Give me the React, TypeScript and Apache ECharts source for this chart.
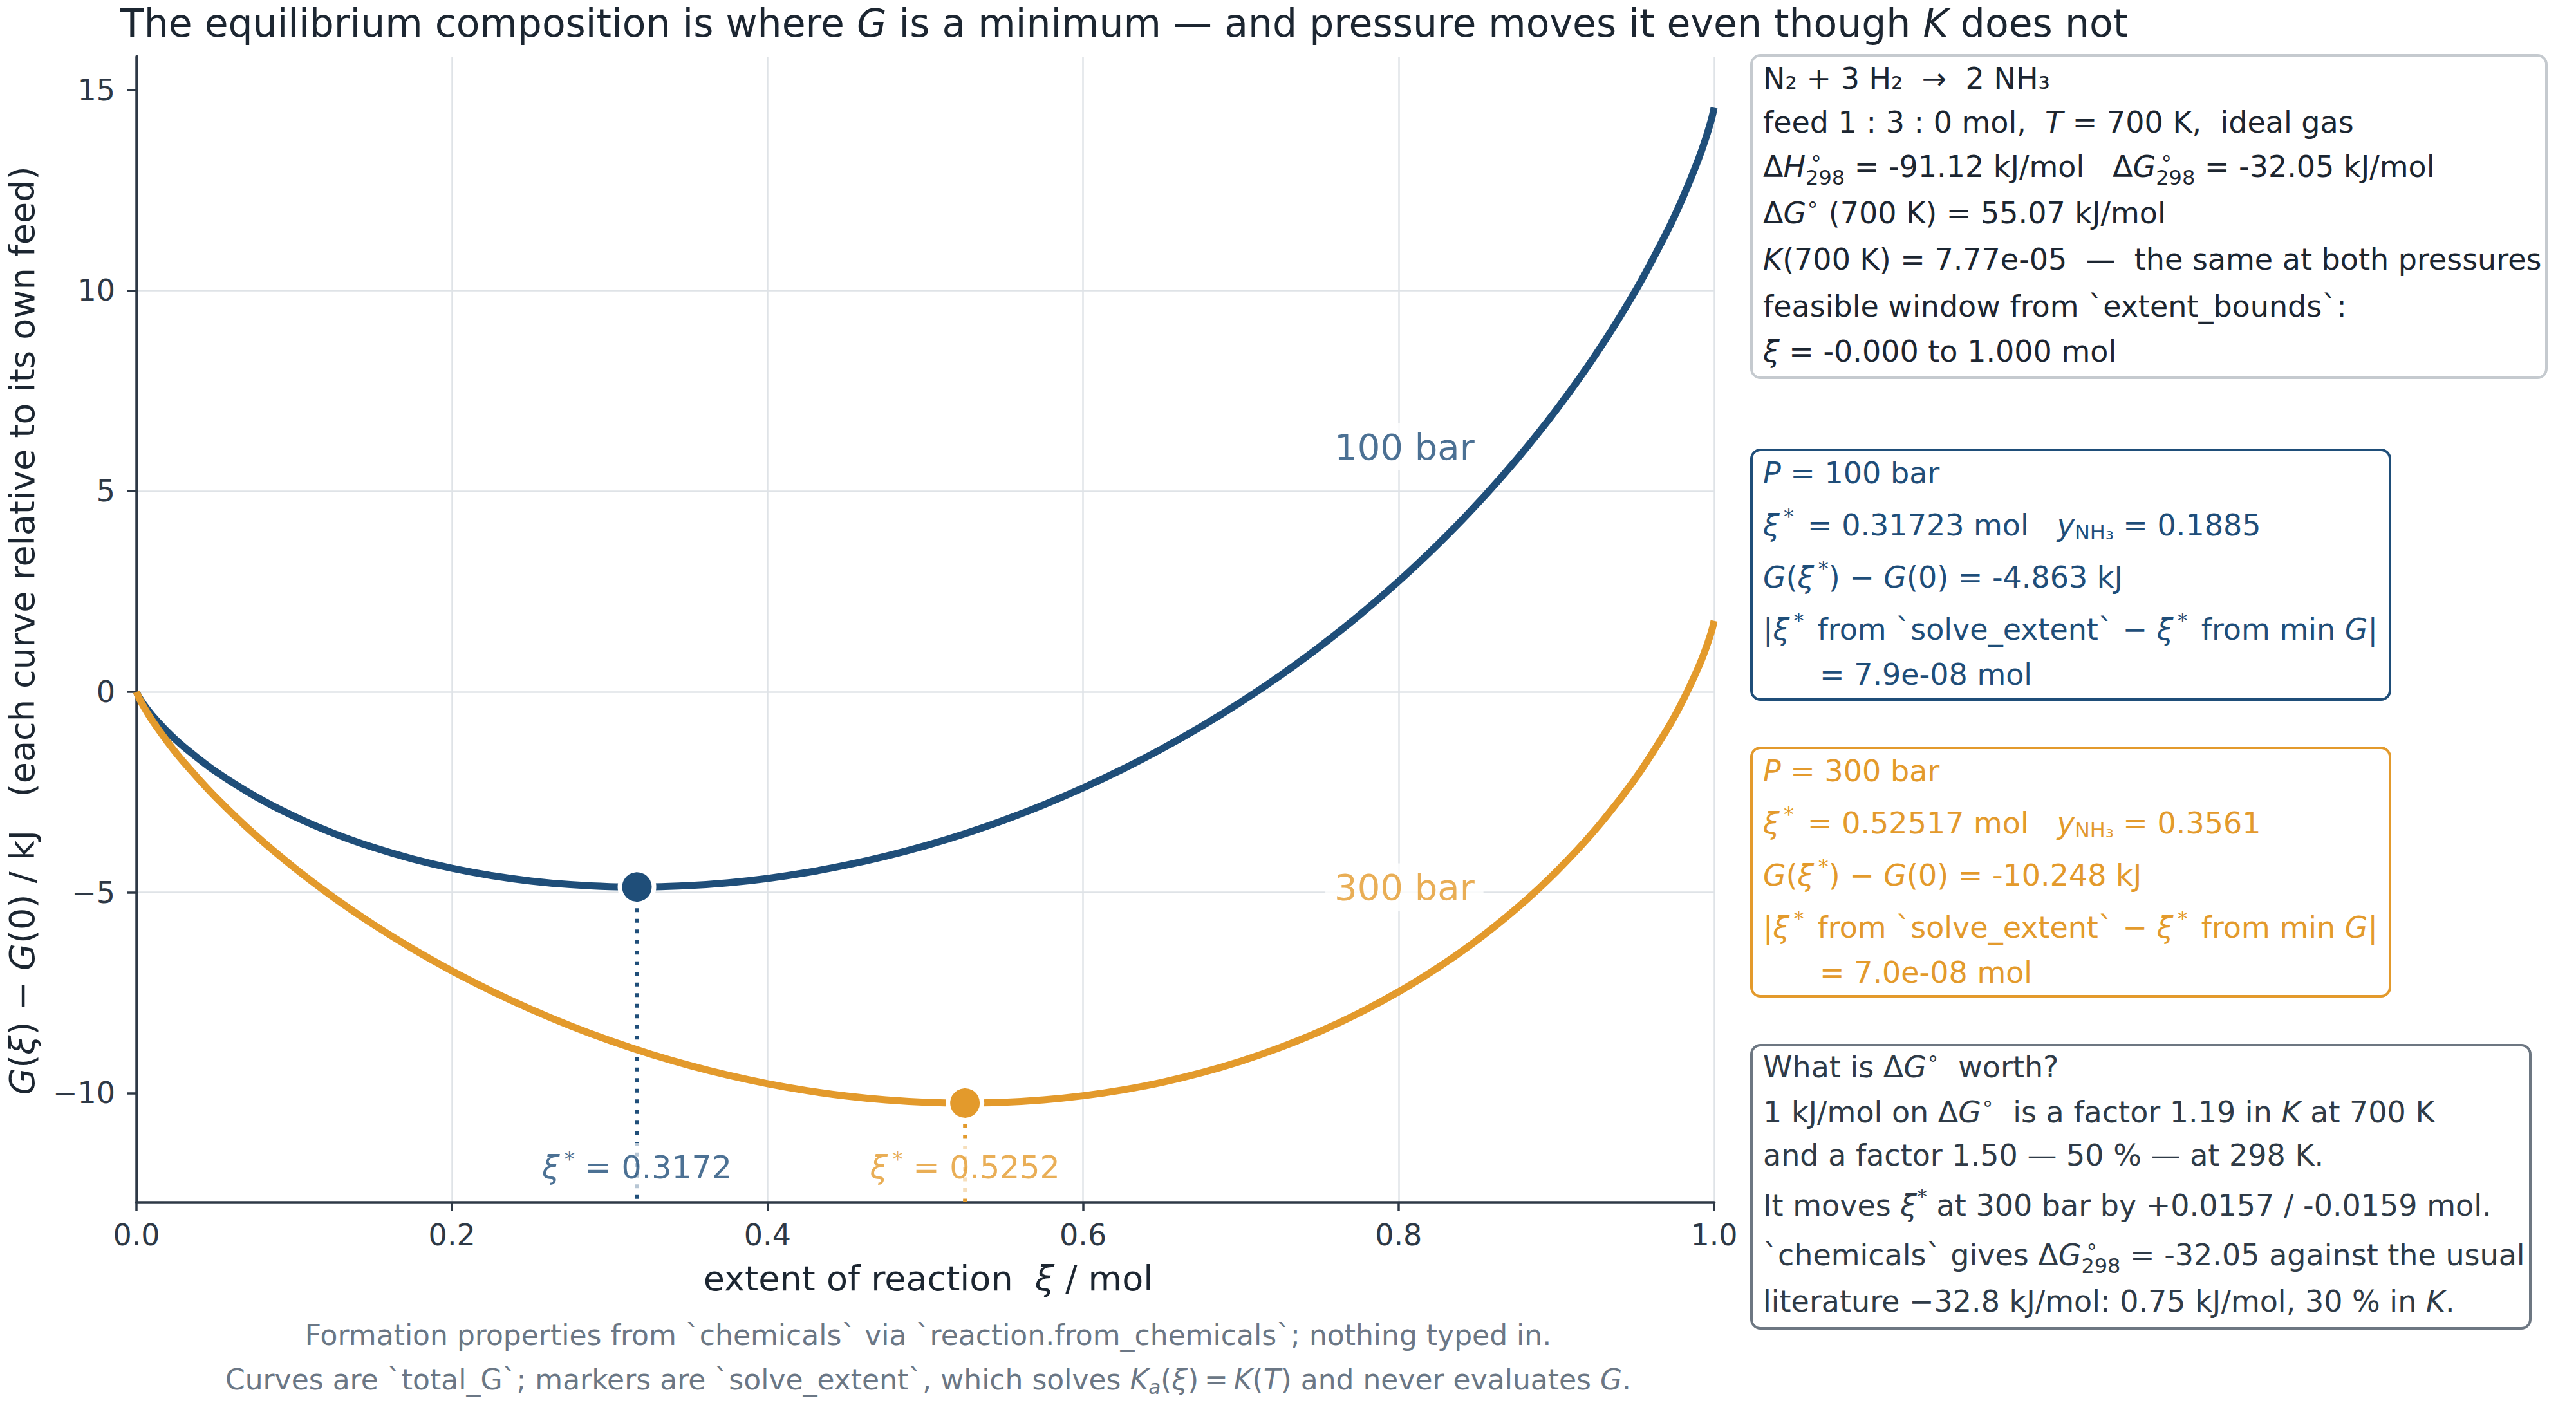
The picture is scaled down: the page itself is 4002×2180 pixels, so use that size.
import React, { useEffect, useRef } from 'react';
import * as echarts from 'echarts';

// ---------- data ----------
const xi = [0, 0.001, 0.002, 0.005, 0.01, 0.02, 0.03, 0.05, 0.075, 0.1, 0.125, 0.15, 0.175, 0.2, 0.225, 0.25, 0.275, 0.3, 0.325, 0.35, 0.375, 0.4, 0.425, 0.45, 0.475, 0.5, 0.525, 0.55, 0.575, 0.6, 0.625, 0.65, 0.675, 0.7, 0.725, 0.75, 0.775, 0.8, 0.825, 0.85, 0.875, 0.9, 0.925, 0.95, 0.97, 0.98, 0.99, 0.995, 0.998, 0.999, 1.0];
const g100 = [0, -0.086, -0.155, -0.334, -0.587, -1.010, -1.371, -1.979, -2.597, -3.105, -3.526, -3.876, -4.165, -4.398, -4.580, -4.715, -4.806, -4.855, -4.862, -4.830, -4.760, -4.651, -4.504, -4.319, -4.097, -3.836, -3.536, -3.197, -2.817, -2.395, -1.930, -1.420, -0.863, -0.255, 0.406, 1.125, 1.905, 2.754, 3.679, 4.689, 5.800, 7.029, 8.407, 9.984, 11.456, 12.301, 13.267, 13.831, 14.223, 14.374, 14.556];
const g300 = [0, -0.098, -0.181, -0.398, -0.715, -1.266, -1.755, -2.618, -3.556, -4.383, -5.125, -5.795, -6.403, -6.955, -7.457, -7.912, -8.323, -8.691, -9.018, -9.306, -9.555, -9.766, -9.939, -10.074, -10.171, -10.230, -10.250, -10.230, -10.170, -10.068, -9.923, -9.733, -9.495, -9.207, -8.865, -8.467, -8.006, -7.477, -6.872, -6.181, -5.390, -4.480, -3.422, -2.164, -0.949, -0.232, 0.607, 1.106, 1.461, 1.598, 1.768];
const starXi = [0.31723, 0.52517];
const starG = [-4.863, -10.248];
const starText = ['0.3172', '0.5252'];
const curveNames = ['100 bar', '300 bar'];
const yTicks = [-10, -5, 0, 5, 10, 15];
const Y_MIN = -12.72;
const Y_MAX = 15.83;

// ---------- styles ----------
const FF = "'DejaVu Sans', Verdana, sans-serif";
const BLUE = '#1f4e79';
const ORANGE = '#e39a2c';
const AX = '#2e3946';
const GRID = '#dfe3e7';
const DARK = '#1c2631';
const SLATE = '#2f3b47';
const FOOT = '#6b7785';

// zrender-style rich set for graphic texts
function zr(fs: number, color: string) {
  const s = Math.round(fs * 0.7);
  const b = { fontFamily: FF, fill: color };
  const lh = Math.round(fs * 1.3);
  return {
    i: { ...b, fontSize: fs, fontStyle: 'italic', lineHeight: lh },
    n: { ...b, fontSize: fs, lineHeight: lh },
    sup: { ...b, fontSize: s, height: s, verticalAlign: 'top' },
    supz: { ...b, fontSize: s, height: s, verticalAlign: 'top', width: 0 },
    sub: { ...b, fontSize: s, height: Math.round(s * 0.8), verticalAlign: 'bottom' },
    sub2: { ...b, fontSize: s, height: Math.round(s * 1.2), verticalAlign: 'bottom' },
    isub: { ...b, fontSize: s, fontStyle: 'italic', height: Math.round(s * 1.1), verticalAlign: 'bottom' },
  };
}

function gText(x: number, baseline: number, text: string, fs: number, color: string, align = 'left', extra: any = {}) {
  return {
    type: 'text',
    x,
    y: baseline - 0.346 * fs,
    z: 20,
    silent: true,
    ...extra,
    style: {
      text,
      x: 0,
      y: 0,
      fill: color,
      fontSize: fs,
      fontFamily: FF,
      lineHeight: Math.round(fs * 1.3),
      align,
      verticalAlign: 'middle',
      rich: zr(fs, color),
    },
  };
}

function box(x: number, y: number, w: number, h: number, stroke: string) {
  return {
    type: 'rect',
    z: 15,
    silent: true,
    shape: { x, y, width: w, height: h, r: 14 },
    style: { fill: '#ffffff', stroke, lineWidth: 4 },
  };
}

const TX = 2739;
const PFS = 46;

const box1Lines = [
  'N₂ + 3 H₂  →  2 NH₃',
  'feed 1 : 3 : 0 mol,  {i|T} = 700 K,  ideal gas',
  'Δ{i|H}{supz|\u2009∘}{sub|298} = -91.12 kJ/mol   Δ{i|G}{supz|\u2009∘}{sub|298} = -32.05 kJ/mol',
  'Δ{i|G}{sup|∘} (700 K) = 55.07 kJ/mol',
  '{i|K}(700 K) = 7.77e-05  —  the same at both pressures',
  'feasible window from `extent_bounds`:',
  '{i|ξ} = -0.000 to 1.000 mol',
];
const box1Base = [138, 206, 275, 347, 419, 492, 562];

const box2Lines = [
  '{i|P} = 100 bar',
  '{i|ξ}{sup|\u2009*\u2009} = 0.31723 mol   {i|y}{sub2|NH₃} = 0.1885',
  '{i|G}({i|ξ}{sup|\u2009*}) − {i|G}(0) = -4.863 kJ',
  '|{i|ξ}{sup|\u2009*\u2009} from `solve_extent` − {i|ξ}{sup|\u2009*\u2009} from min {i|G}|',
  '= 7.9e-08 mol',
];
const box2Base = [751, 832, 913, 994, 1064];

const box3Lines = [
  '{i|P} = 300 bar',
  '{i|ξ}{sup|\u2009*\u2009} = 0.52517 mol   {i|y}{sub2|NH₃} = 0.3561',
  '{i|G}({i|ξ}{sup|\u2009*}) − {i|G}(0) = -10.248 kJ',
  '|{i|ξ}{sup|\u2009*\u2009} from `solve_extent` − {i|ξ}{sup|\u2009*\u2009} from min {i|G}|',
  '= 7.0e-08 mol',
];
const box3Base = [1214, 1295, 1376, 1457, 1527];

const box4Lines = [
  'What is Δ{i|G}{sup|∘}  worth?',
  '1 kJ/mol on Δ{i|G}{sup|∘}  is a factor 1.19 in {i|K} at 700 K',
  'and a factor 1.50 — 50 % — at 298 K.',
  'It moves {i|ξ}{sup|*} at 300 bar by +0.0157 / -0.0159 mol.',
  '`chemicals` gives Δ{i|G}{supz|\u2009∘}{sub|298} = -32.05 against the usual',
  'literature −32.8 kJ/mol: 0.75 kJ/mol, 30 % in {i|K}.',
];
const box4Base = [1674, 1744, 1811, 1889, 1966, 2038];

const TITLE = 'The equilibrium composition is where {i|G} is a minimum — and pressure moves it even though {i|K} does not';
const X_NAME = 'extent of reaction  {i|ξ} / mol';
const Y_NAME = '{i|G}({i|ξ}) − {i|G}(0) / kJ   (each curve relative to its own feed)';
const FOOT1 = 'Formation properties from `chemicals` via `reaction.from_chemicals`; nothing typed in.';
const FOOT2 = 'Curves are `total_G`; markers are `solve_extent`, which solves {i|K}{isub|a}({i|ξ})\u2009=\u2009{i|K}({i|T}) and never evaluates {i|G}.';

function labelRich(fs: number, color: string) {
  const s = Math.round(fs * 0.7);
  return {
    i: { fontFamily: FF, fontSize: fs, fontStyle: 'italic', color, lineHeight: Math.round(fs * 1.25) },
    sup: { fontFamily: FF, fontSize: s, color, height: s, verticalAlign: 'top' },
  };
}

export default function App() {
  const ref = useRef<HTMLDivElement>(null);
  useEffect(() => {
    if (!ref.current) return;
    const chart = echarts.init(ref.current, null, { renderer: 'svg' });
    const colors = [BLUE, ORANGE];
    const curves = [g100, g300];

    const series: any[] = [];
    curves.forEach((vals, k) => {
      series.push({
        type: 'line',
        name: curveNames[k],
        data: xi.map((x, i) => [x, vals[i]]),
        showSymbol: false,
        symbol: 'none',
        smooth: 0.3,
        lineStyle: { color: colors[k], width: 11, cap: 'butt', join: 'round' },
        z: 3,
        silent: true,
      });
      // dotted drop line
      series.push({
        type: 'line',
        data: [[starXi[k], starG[k]], [starXi[k], Y_MIN]],
        showSymbol: false,
        symbol: 'none',
        lineStyle: { color: colors[k], width: 6, type: [6, 10.5] },
        z: 2,
        silent: true,
      });
      // marker
      series.push({
        type: 'scatter',
        data: [[starXi[k], starG[k]]],
        symbol: 'circle',
        symbolSize: 53,
        itemStyle: { color: colors[k], borderColor: '#ffffff', borderWidth: 7, opacity: 1 },
        z: 5,
        silent: true,
      });
      // xi* label
      series.push({
        type: 'scatter',
        data: [[starXi[k], -11.86]],
        symbolSize: 1,
        itemStyle: { color: 'rgba(0,0,0,0)' },
        z: 6,
        silent: true,
        label: {
          show: true,
          position: 'inside',
          formatter: '{i|ξ}{sup|\u2009*} = ' + starText[k],
          fontFamily: FF,
          fontSize: 49,
          lineHeight: 60,
          color: colors[k],
          align: 'center',
          verticalAlign: 'middle',
          backgroundColor: 'rgba(255,255,255,0.85)',
          padding: [8, 10],
          rich: labelRich(49, colors[k]),
        },
      });
      // curve name label
      series.push({
        type: 'scatter',
        data: [[0.8037, k === 0 ? 6.11 : -4.87]],
        symbolSize: 1,
        itemStyle: { color: 'rgba(0,0,0,0)' },
        z: 6,
        silent: true,
        label: {
          show: true,
          position: 'inside',
          formatter: curveNames[k],
          fontFamily: FF,
          fontSize: 56,
          lineHeight: 62,
          color: colors[k],
          align: 'center',
          verticalAlign: 'middle',
          backgroundColor: '#ffffff',
          padding: [6, 14],
        },
      });
    });

    const elements: any[] = [];
    elements.push(gText(187, 57, TITLE, 60, DARK));
    elements.push(gText(1442, 2005, X_NAME, 54, DARK, 'center'));
    elements.push({
      type: 'text',
      x: 34,
      y: 980,
      rotation: Math.PI / 2,
      z: 20,
      silent: true,
      style: {
        text: Y_NAME, x: 0, y: 0, fill: DARK, fontSize: 54, fontFamily: FF,
        lineHeight: 70, align: 'center', verticalAlign: 'middle', rich: zr(54, DARK),
      },
    });
    elements.push(gText(1442, 2090, FOOT1, 44, FOOT, 'center'));
    elements.push(gText(1442, 2159, FOOT2, 44, FOOT, 'center'));

    elements.push(box(2721, 86, 1235, 501, '#c5cacf'));
    box1Lines.forEach((t, i) => elements.push(gText(TX, box1Base[i], t, PFS, DARK)));
    elements.push(box(2721, 699, 992, 388, BLUE));
    box2Lines.forEach((t, i) => elements.push(gText(i === 4 ? 2827 : TX, box2Base[i], t, PFS, BLUE)));
    elements.push(box(2721, 1162, 992, 386, ORANGE));
    box3Lines.forEach((t, i) => elements.push(gText(i === 4 ? 2827 : TX, box3Base[i], t, PFS, ORANGE)));
    elements.push(box(2721, 1624, 1210, 440, '#6d7782'));
    box4Lines.forEach((t, i) => elements.push(gText(TX, box4Base[i], t, PFS, SLATE)));

    chart.setOption({
      animation: false,
      backgroundColor: '#ffffff',
      grid: { left: 212, right: 1339, top: 88, bottom: 312, containLabel: false },
      xAxis: {
        type: 'value',
        min: 0,
        max: 1,
        interval: 0.2,
        axisLine: { show: true, onZero: false, lineStyle: { color: AX, width: 4.5 } },
        axisTick: { show: true, length: 14, lineStyle: { color: AX, width: 3.5 } },
        axisLabel: {
          fontSize: 46, color: AX, fontFamily: FF, margin: 28,
          formatter: (v: number) => v.toFixed(1),
        },
        splitLine: { show: true, showMinLine: false, lineStyle: { color: GRID, width: 2.5 } },
      },
      yAxis: {
        type: 'value',
        min: Y_MIN,
        max: Y_MAX,
        axisLine: { show: true, onZero: false, lineStyle: { color: AX, width: 4.5 } },
        axisTick: { show: true, length: 14, customValues: yTicks, lineStyle: { color: AX, width: 3.5 } },
        axisLabel: {
          customValues: yTicks,
          fontSize: 46, color: AX, fontFamily: FF, margin: 33,
          formatter: (v: number) => (v < 0 ? '\u2212' + Math.abs(v) : String(v)),
        },
        splitLine: { show: true, showMinLine: false, showMaxLine: false, lineStyle: { color: GRID, width: 2.5 } },
      },
      series,
      graphic: { elements },
    });
    return () => chart.dispose();
  }, []);
  return (
    <div
      ref={ref}
      style={{ position: 'absolute', left: 0, top: 0, width: 4002, height: 2180, background: '#fff' }}
    />
  );
}
